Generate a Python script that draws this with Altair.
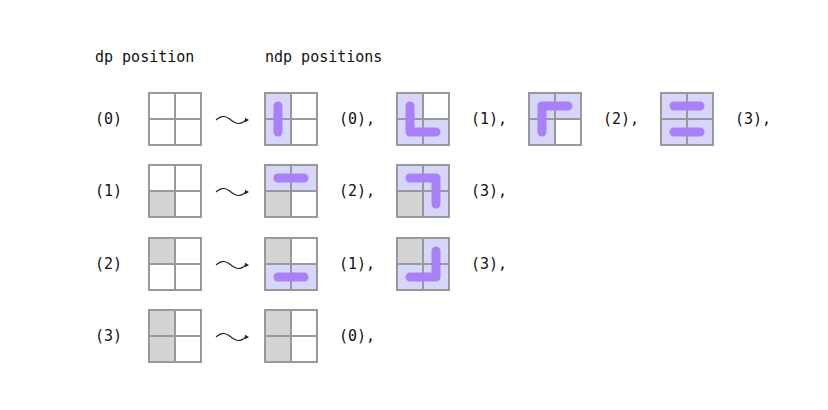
import altair as alt
import pandas as pd
import numpy as np

# layout parameters (picture pixels)
row_tops = [93, 165, 238, 310]
dp_x = 149
ndp_xs = [265, 397, 529, 661]
G = 52  # grid size
C = G / 2

# data
dp_labels = ["(0)", "(1)", "(2)", "(3)"]
dp_gray = [[], [(1, 0)], [(0, 0)], [(0, 0), (1, 0)]]
ndp_opts = [
    [([(0, 0), (1, 0)], [[(0, 0), (1, 0)]], "(0),"),
     ([(0, 0), (1, 0), (1, 1)], [[(0, 0), (1, 0), (1, 1)]], "(1),"),
     ([(0, 0), (0, 1), (1, 0)], [[(1, 0), (0, 0), (0, 1)]], "(2),"),
     ([(0, 0), (0, 1), (1, 0), (1, 1)], [[(0, 0), (0, 1)], [(1, 0), (1, 1)]], "(3),")],
    [([(0, 0), (0, 1)], [[(0, 0), (0, 1)]], "(2),"),
     ([(0, 0), (0, 1), (1, 1)], [[(0, 0), (0, 1), (1, 1)]], "(3),")],
    [([(1, 0), (1, 1)], [[(1, 0), (1, 1)]], "(1),"),
     ([(0, 1), (1, 0), (1, 1)], [[(0, 1), (1, 1), (1, 0)]], "(3),")],
    [([], [], "(0),")],
]
headers = ["dp position", "ndp positions"]

cells, paths, texts, tildes, heads = [], [], [], [], []
pid = 0
for ri, top in enumerate(row_tops):
    texts.append(dict(x=95, y=top + C, t=dp_labels[ri]))
    grids = [(dp_x, [], dp_gray[ri], [])]
    for k, (lav, pl, lab) in enumerate(ndp_opts[ri]):
        grids.append((ndp_xs[k], lav, dp_gray[ri], pl))
        texts.append(dict(x=ndp_xs[k] + G + 22, y=top + C, t=lab))
    for gx, lav, gray, pl in grids:
        for r in range(2):
            for c in range(2):
                f = "gray" if (r, c) in gray else ("lav" if (r, c) in lav else "white")
                cells.append(dict(x=gx + c * C, x2=gx + (c + 1) * C, y=top + r * C, y2=top + (r + 1) * C, f=f))
        for p in pl:
            for o, (r, c) in enumerate(p):
                paths.append(dict(id=pid, o=o, x=gx + c * C + C / 2, y=top + r * C + C / 2))
            pid += 1
    xs = np.linspace(216, 246, 16)
    for o, xv in enumerate(xs):
        tildes.append(dict(id=ri, o=o, x=xv, y=top + C + 1 - 3.5 * np.sin((xv - 216) / 30 * 2 * np.pi)))
    heads.append(dict(x=247, y=top + C + 1))
texts_h = [dict(x=95, y=57, t=headers[0]), dict(x=265, y=57, t=headers[1])]

xs_ = alt.Scale(domain=[8, 820])
ys_ = alt.Scale(domain=[8, 402], reverse=True)
X = lambda f="x": alt.X(f, type="quantitative", scale=xs_, axis=None)
Y = lambda f="y": alt.Y(f, type="quantitative", scale=ys_, axis=None)

rects = alt.Chart(pd.DataFrame(cells)).mark_rect(stroke="#999999", strokeWidth=2).encode(
    x=X(), x2="x2", y=Y(), y2="y2",
    fill=alt.Fill("f:N", scale=alt.Scale(domain=["white", "gray", "lav"], range=["#ffffff", "#d4d4d4", "#d6d6fb"]), legend=None))
lines = alt.Chart(pd.DataFrame(paths)).mark_line(color="#a980f7", strokeWidth=9, strokeCap="round", strokeJoin="round").encode(
    x=X(), y=Y(), detail="id:N", order="o:Q")
til = alt.Chart(pd.DataFrame(tildes)).mark_line(color="#222222", strokeWidth=1.2, interpolate="monotone").encode(
    x=X(), y=Y(), detail="id:N", order="o:Q")
hd = alt.Chart(pd.DataFrame(heads)).mark_point(shape="triangle-right", filled=True, color="#222222", size=22, opacity=1).encode(x=X(), y=Y())
tx = alt.Chart(pd.DataFrame(texts + texts_h)).mark_text(font="DejaVu Sans Mono", fontSize=15, align="left", baseline="middle", color="#111111").encode(
    x=X(), y=Y(), text="t:N")

chart = alt.layer(rects, lines, til, hd, tx).properties(
    width=812, height=394, padding=0, autosize=alt.AutoSizeParams(type="none")
).configure_view(stroke=None)
chart.save("out.html", embed_options={"renderer": "svg", "actions": False})
